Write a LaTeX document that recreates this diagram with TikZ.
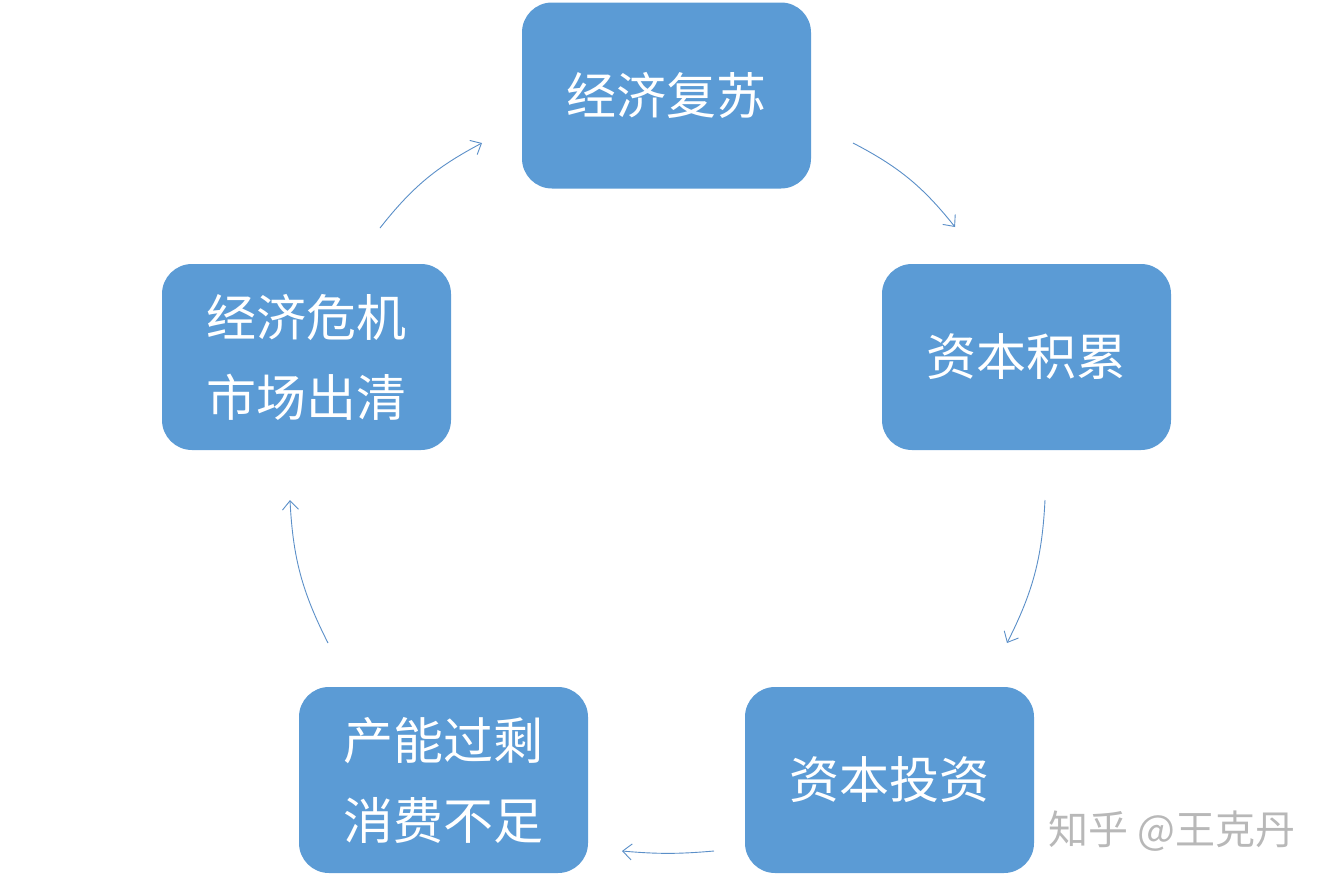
\documentclass[tikz,border=0pt]{standalone}
\usepackage{fontspec}
\newfontfamily\cjk{Noto Sans CJK SC}
\usetikzlibrary{arrows.meta}
\definecolor{boxblue}{HTML}{5B9BD5}
\definecolor{arrblue}{HTML}{5B8FC8}
\definecolor{wmgray}{HTML}{B8B8B8}
\tikzset{
  stage/.style={fill=boxblue, draw=none, rounded corners=30pt, minimum width=289pt, minimum height=186pt, text=white, font=\cjk\fontsize{50}{80}\selectfont, align=center, inner sep=0pt},
  flow/.style={draw=arrblue, line width=0.9pt, -{Straight Barb[length=9pt,width=16pt,line width=0.9pt]}}
}
\begin{document}
\begin{tikzpicture}[x=1pt,y=-1pt]
\useasboundingbox (0,0) rectangle (1334,889);
\node[stage] (recovery) at (666.5,95.5) {经济复苏};
\node[stage] (accum) at (1026.5,357) {资本积累};
\node[stage] (invest) at (889.5,780) {资本投资};
\node[stage] (over) at (443.5,780) {产能过剩\\消费不足};
\node[stage] (crisis) at (306.5,357) {经济危机\\市场出清};
\coordinate (a1s) at (853,143); \coordinate (a1e) at (955,227);
\coordinate (a2s) at (1045,500); \coordinate (a2e) at (1007,643);
\coordinate (a3s) at (714,851); \coordinate (a3e) at (622,851);
\coordinate (a4s) at (328,643); \coordinate (a4e) at (290,500);
\coordinate (a5s) at (380,228); \coordinate (a5e) at (482,143);
\draw[flow] (a1s) to[bend left=12] (a1e);
\draw[flow] (a2s) to[bend left=12] (a2e);
\draw[flow] (a3s) to[bend left=5] (a3e);
\draw[flow] (a4s) to[bend left=12] (a4e);
\draw[flow] (a5s) to[bend left=12] (a5e);
\node[text=wmgray, font=\cjk\fontsize{40}{42}\selectfont, anchor=west, inner sep=0pt] (wm) at (1048,831) {知乎 @王克丹};
\end{tikzpicture}
\end{document}
